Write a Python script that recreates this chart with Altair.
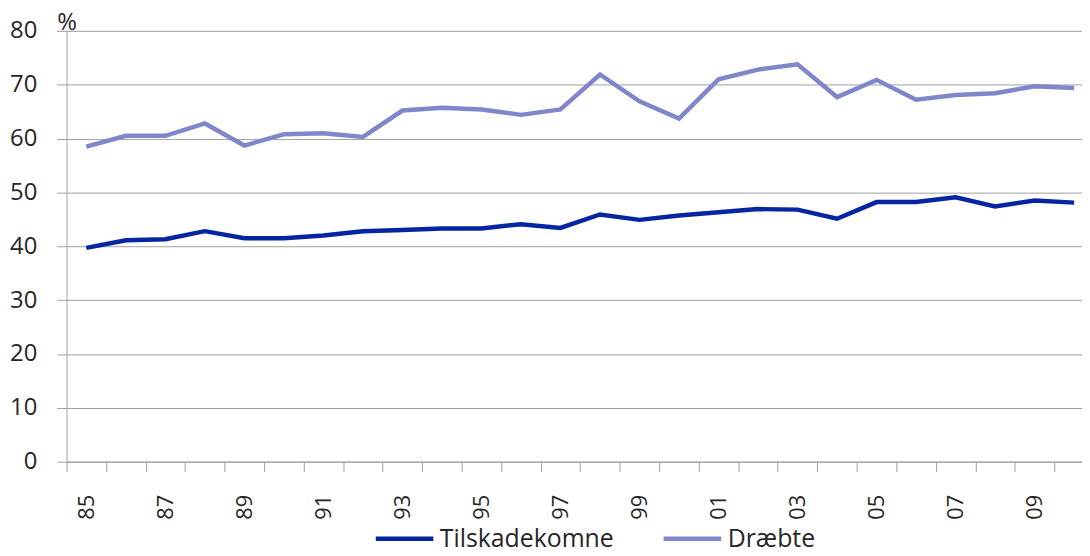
import altair as alt
import pandas as pd

years = list(range(1985, 2011))
tilskadekomne = [39.7, 41.1, 41.3, 42.8, 41.5, 41.5, 42.0, 42.8, 43.0, 43.3, 43.3, 44.1, 43.4,
                 45.9, 44.9, 45.7, 46.3, 46.9, 46.8, 45.1, 48.2, 48.2, 49.1, 47.4, 48.5, 48.1]
draebte = [58.5, 60.5, 60.5, 62.8, 58.7, 60.8, 61.0, 60.3, 65.2, 65.7, 65.4, 64.4, 65.4,
           71.9, 66.9, 63.7, 71.0, 72.8, 73.8, 67.7, 70.9, 67.2, 68.1, 68.4, 69.7, 69.4]
series_names = ["Tilskadekomne", "Dræbte"]
series_colors = ["#0526A0", "#7F86C9"]
label_years = [y for y in years if y % 2 == 1]
boundaries = [y - 0.5 for y in years]

df = pd.DataFrame({
    "year": years * 2,
    "value": tilskadekomne + draebte,
    "series": [series_names[0]] * len(years) + [series_names[1]] * len(years),
})

FONT = "Open Sans"
TXT = "#262626"
GRID = "#A0A0A0"
xscale = alt.Scale(domain=[1984.5, 2010.2], nice=False, zero=False)

lines = alt.Chart(df).mark_line(strokeWidth=4.5, strokeJoin="miter").encode(
    x=alt.X("year:Q", scale=xscale, title=None,
            axis=alt.Axis(values=label_years, labelExpr="slice(toString(datum.value), 2)",
                          ticks=False, domain=False, grid=False, labelAngle=270,
                          labelPadding=33, labelFontSize=22, labelFont=FONT, labelColor=TXT,
                          orient="bottom", labelOverlap=False)),
    y=alt.Y("value:Q", scale=alt.Scale(domain=[0, 80], nice=False),
            axis=alt.Axis(values=list(range(0, 81, 10)), title="%", titleAngle=0,
                          titleX=-10, titleY=-1, titleAlign="left", titleBaseline="alphabetic",
                          titleFontSize=24, titleFont=FONT, titleFontWeight="normal", titleColor=TXT,
                          labelFontSize=24, labelFont=FONT, labelColor=TXT, labelPadding=20,
                          tickSize=10, tickColor=GRID, domainColor=GRID, gridColor=GRID,
                          gridWidth=1)),
    color=alt.Color("series:N", scale=alt.Scale(domain=series_names, range=series_colors),
                    legend=alt.Legend(orient="none", legendX=309, legendY=480,
                                      direction="horizontal", title=None,
                                      symbolType="stroke", symbolSize=3364,
                                      symbolStrokeWidth=4.5, labelFontSize=25,
                                      labelFont=FONT, labelColor=TXT, labelLimit=400,
                                      labelOffset=4, columnPadding=40)),
)

ticks_layer = alt.Chart(df).mark_point(opacity=0).encode(
    x=alt.X("year:Q", scale=xscale, title=None,
            axis=alt.Axis(values=boundaries, labels=False, ticks=True, tickSize=10,
                          tickColor=GRID, domain=True, domainColor=GRID, grid=False,
                          orient="bottom")),
)

chart = alt.layer(lines, ticks_layer).resolve_axis(x="independent").properties(
    width=1023, height=434,
    padding={"left": 59, "top": 21, "right": 0, "bottom": 85},
    autosize=alt.AutoSizeParams(type="none"),
).configure_view(stroke=None)

chart.save("out.html", embed_options={"renderer": "svg", "actions": False})
